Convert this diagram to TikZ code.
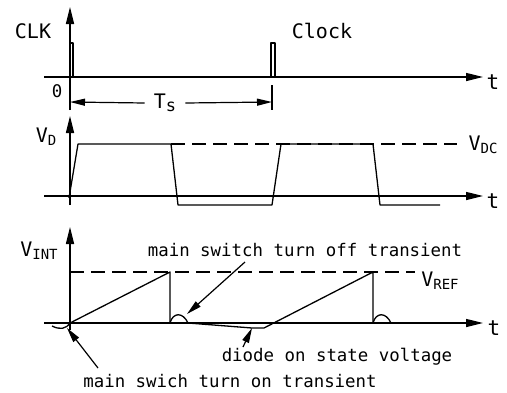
\documentclass[tikz,border=0pt]{standalone}
\usepackage{fontspec}
\setmainfont{DejaVu Sans Mono}
\usetikzlibrary{arrows.meta,positioning}

% lowered small index letters (V_D, V_REF, ...)
\newcommand{\lowsub}[1]{{\fontsize{14}{14}\selectfont\raisebox{-0.35ex}{#1}}}

\begin{document}
\begin{tikzpicture}[x=1pt,y=-1pt,
  axis/.style={line width=1.3pt, -{Triangle[length=17pt,width=8pt]}},
  wave/.style={line width=1.3pt, line join=round},
  level/.style={line width=1.2pt, dash pattern=on 14pt off 7pt},
  biglabel/.style={font=\fontsize{20}{20}\selectfont, inner sep=1pt},
  tlabel/.style={font=\fontsize{21}{21}\selectfont, inner sep=1pt},
  note/.style={font=\fontsize{17.4}{17.4}\selectfont, inner sep=1pt},
  pointer/.style={line width=1.2pt, -{Triangle[length=15pt,width=7pt]}},
  dimline/.style={line width=1.2pt, -{Triangle[length=15pt,width=7pt]}},
]
  \useasboundingbox (0,0) rectangle (507,392);

  % Clock panel (top)
  \coordinate (clkbot) at (70,110);
  \coordinate (clktop) at (70,7);
  \coordinate (clkleft) at (44,77);
  \coordinate (clkright) at (483,77);
  \draw[axis] (clkbot) -- (clktop);
  \draw[axis] (clkleft) -- (clkright);
  \node[biglabel] (clk) at (33,31) {CLK};
  \node[biglabel] (clock) at (322,31) {Clock};
  \node[tlabel] (t1) at (493,82) {t};
  \node[note] (zero) at (57,91) {0};

  % clock pulses
  \draw[wave] (70,77) -- (70,43) -- (73,43) -- (73,77);
  \draw[wave] (271,77) -- (271,43) -- (275,43) -- (275,77);

  % switching period
  \coordinate (tsl) at (70,102);
  \coordinate (tsr) at (272,102);
  \draw[line width=1.2pt] (272,85) -- (272,110);
  \node[biglabel] (ts) at (165,103) {T\lowsub{\fontsize{17}{17}\selectfont s}};
  \draw[dimline] (ts.west) ++(-8,0) -- (tsl);
  \draw[dimline] (ts.east) ++(8,0) -- (tsr);

  % Diode voltage panel (middle)
  \coordinate (vdbot) at (70,205);
  \coordinate (vdtop) at (70,116);
  \coordinate (vdleft) at (44,196);
  \coordinate (vdright) at (483,196);
  \draw[axis] (vdbot) -- (vdtop);
  \draw[axis] (vdleft) -- (vdright);
  \node[biglabel] (vd) at (46,137) {V\lowsub{D}};
  \node[biglabel] (vdc) at (483,145) {V\lowsub{DC}};
  \node[tlabel] (t2) at (493,201) {t};

  \coordinate (dcstart) at (171,144);
  \coordinate (dcend) at (457,144);
  \draw[level] (dcstart) -- (dcend);
  \draw[wave] (69,198) -- (78,144) -- (171,144) -- (178,205) -- (272,205)
              -- (281,144) -- (373,144) -- (380,205) -- (440,205);

  % Integrator voltage panel (bottom)
  \coordinate (vibot) at (70,330);
  \coordinate (vitop) at (70,227);
  \coordinate (vileft) at (44,323);
  \coordinate (viright) at (483,323);
  \draw[axis] (vibot) -- (vitop);
  \draw[axis] (vileft) -- (viright);
  \node[biglabel] (vint) at (39,251) {V\lowsub{INT}};
  \node[biglabel] (vref) at (440,281) {V\lowsub{REF}};
  \node[tlabel] (t3) at (494,328) {t};

  \coordinate (refstart) at (70,272);
  \coordinate (refend) at (415,272);
  \draw[level] (refstart) -- (refend);

  % ramps, resets and transients
  \coordinate (turnon) at (67,328);
  \coordinate (turnoff) at (187,314);
  \coordinate (diodeon) at (252,328);
  \draw[wave] (52,326) .. controls (60,330) and (66,329) .. (70,323);
  \draw[wave] (70,323) -- (170,272) -- (170,323);
  \draw[wave] (170,323) .. controls (173,312) and (183,312) .. (188,323);
  \draw[wave] (188,323) -- (252,328) -- (264,328) -- (373,272) -- (373,323);
  \draw[wave] (373,323) .. controls (376,312) and (386,312) .. (391,323);

  % annotations
  \node[note] (offnote) at (305,250) {main switch turn off transient};
  \node[note] (diodenote) at (337,357) {diode on state voltage};
  \node[note] (onnote) at (230,381) {main swich turn on transient};
  \draw[pointer] (245,262) -- (turnoff);
  \draw[pointer] (243,347) -- (diodeon);
  \draw[pointer] (98,368) -- (turnon);

\end{tikzpicture}
\end{document}
